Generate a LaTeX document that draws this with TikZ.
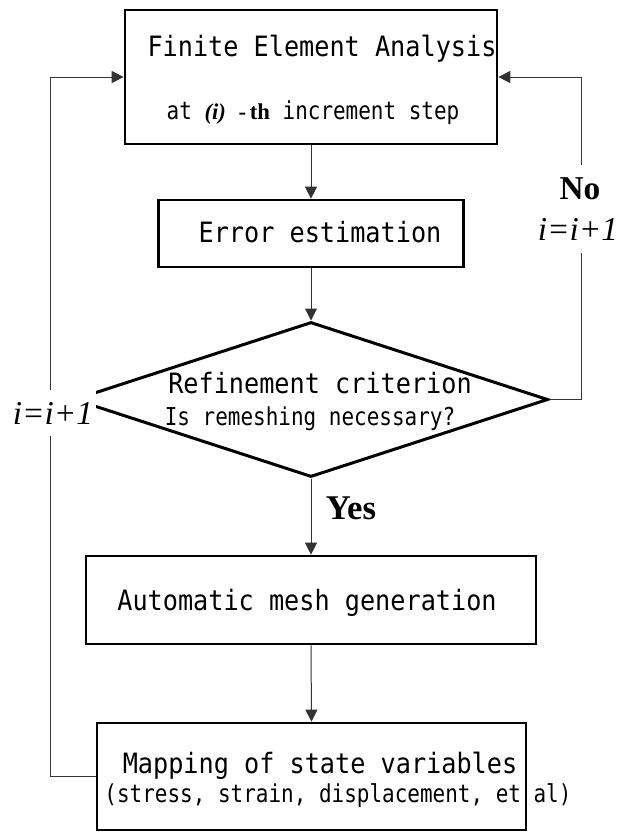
\documentclass[tikz,border=0pt]{standalone}
\usepackage{fontspec}
\setmainfont{Liberation Serif}
\newfontfamily\monowide[FakeStretch=0.9]{DejaVu Sans Mono}
\newfontfamily\mononarrow[FakeStretch=0.85]{DejaVu Sans Mono}
\usetikzlibrary{arrows.meta,shapes.geometric}

\newcommand\bxfont{\monowide\fontsize{21pt}{25pt}\selectfont}
\newcommand\ntfont{\mononarrow\fontsize{18.5pt}{22pt}\selectfont}

\tikzset{
  block/.style={draw, line width=2pt, inner sep=0pt},
  wire/.style={draw=black!80, line width=0.75pt},
  flow/.style={wire, -{Triangle[length=9pt,width=9pt]}},
  txt/.style={anchor=base, inner sep=0pt},
}

\begin{document}
\begin{tikzpicture}[x=0.75pt, y=-0.75pt]
    \useasboundingbox (0,0) rectangle (621,833);

    % box centres
    \coordinate (a01) at (311,  77);
    \coordinate (a02) at (311, 233.5);
    \coordinate (a03) at (311, 399.5);
    \coordinate (a04) at (311, 600);
    \coordinate (a05) at (311.5,776.5);

    % right return line
    \coordinate (t01) at (581, 399.5);
    \coordinate (t02) at (581, 253);
    \coordinate (t03) at (581, 165);

    % text baselines
    \coordinate (l01) at (322,  56);
    \coordinate (l02) at (313, 119);
    \coordinate (l03) at (320, 242);
    \coordinate (l04) at (320, 393);
    \coordinate (l05) at (310, 425);
    \coordinate (l06) at (307, 610);
    \coordinate (l07) at (320, 773);
    \coordinate (l08) at (338, 802);
    \coordinate (l09) at (351, 519);
    \coordinate (l10) at (580, 199);
    \coordinate (l11) at (578, 240);
    \coordinate (l12) at ( 53, 413);

    \node[block, minimum width=279pt,    minimum height=100.5pt] (fea)  at (a01) {};
    \node[block, minimum width=228.75pt, minimum height=50.25pt] (err)  at (a02) {};
    \node[diamond, draw, line width=2.25pt, inner sep=0pt,
          minimum width=355.5pt, minimum height=116.25pt]      (dia)  at (a03) {};
    \node[block, minimum width=337.5pt,  minimum height=66pt]    (mesh) at (a04) {};
    \node[block, minimum width=321.75pt, minimum height=80.25pt] (map)  at (a05) {};

    \node[txt] (fea1) at (l01) {\bxfont Finite Element Analysis};
    \node[txt] (fea2) at (l02) {{\ntfont at }{\fontsize{17pt}{20pt}\selectfont\bfseries\itshape (i)}{\ntfont\ }{\fontsize{17pt}{20pt}\selectfont\bfseries -\,th}{\ntfont\ increment step}};
    \node[txt] (err1) at (l03) {\bxfont Error estimation};
    \node[txt] (dia1) at (l04) {\bxfont Refinement criterion};
    \node[txt] (dia2) at (l05) {\ntfont Is remeshing necessary?};
    \node[txt] (msh1) at (l06) {\bxfont Automatic mesh generation};
    \node[txt] (map1) at (l07) {\bxfont Mapping of state variables};
    \node[txt] (map2) at (l08) {\ntfont (stress, strain, displacement, et al)};

    \draw[flow] (fea.south) -- (err.north);
    \draw[flow] (err.south) -- (dia.north);
    \draw[flow] (dia.south) -- (mesh.north);
    \draw[flow] (mesh.south) -- (map.north);

    % loops back to the analysis
    \draw[flow] (map.west) -- ++(-45,0) |- (fea.west);
    \draw[wire] (dia.east) -- (t01) -- (t02);
    \draw[flow] (t03) |- (fea.east);

    \node[txt, font=\fontsize{26pt}{30pt}\selectfont\bfseries] (yes) at (l09) {Yes};
    \node[txt, font=\fontsize{25pt}{29pt}\selectfont\bfseries] (no)  at (l10) {No};
    \node[txt, font=\fontsize{25pt}{29pt}\selectfont\itshape]  (inc1) at (l11) {i=i+1};
    \node[fill=white, inner sep=0pt, minimum width=65pt, minimum height=35pt,
          font=\fontsize{25pt}{29pt}\selectfont\itshape] (inc2) at (l12) {i=i+1};
\end{tikzpicture}
\end{document}
